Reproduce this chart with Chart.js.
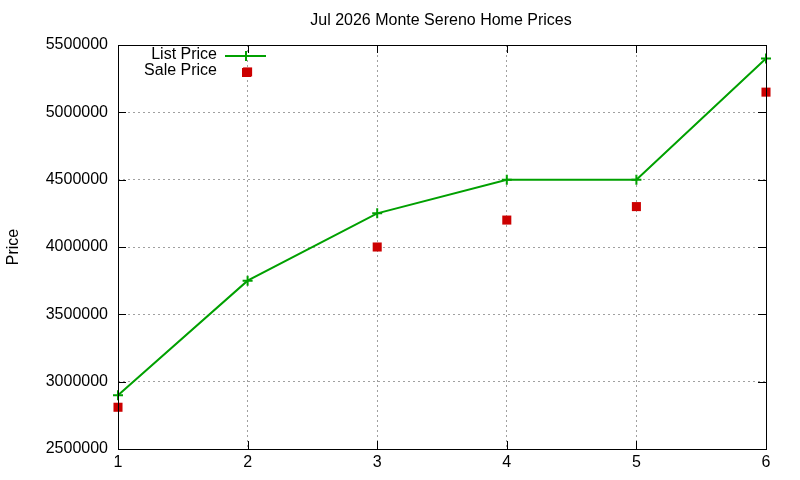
<!DOCTYPE html>
<html>
<head>
<meta charset="utf-8">
<script src="https://cdn.jsdelivr.net/npm/chart.js@4"></script>
<style>
body{margin:0;background:#fff}
</style>
</head>
<body>
<canvas id="myChart" width="800" height="480"></canvas>
<script>
// data
let months=[1,2,3,4,5,6]
let listPrice=[2900000,3750000,4250000,4500000,4500000,5400000]
let salePrice=[2810000,5300000,4000000,4200000,4300000,5150000]
let yTicks=[2500000,3000000,3500000,4000000,4500000,5000000,5500000]

const FONT='"Liberation Sans", Arial, sans-serif'

// frame, inward ticks, title and legend like gnuplot
const gnuplotBits={
    id:'gnuplotBits',
    afterDraw(chart){
        const c=chart.ctx, a=chart.chartArea
        const xs=chart.scales.x, ys=chart.scales.y
        c.save()
        c.strokeStyle='#000'
        c.lineWidth=1
        c.strokeRect(a.left+0.5,a.top+0.5,a.right-a.left,a.bottom-a.top)
        c.beginPath()
        yTicks.forEach(v=>{
            let y=Math.round(ys.getPixelForValue(v))+0.5
            c.moveTo(a.left,y);c.lineTo(a.left+8,y)
            c.moveTo(a.right,y);c.lineTo(a.right-8,y)
        })
        months.forEach(v=>{
            let x=Math.round(xs.getPixelForValue(v))+0.5
            c.moveTo(x,a.bottom);c.lineTo(x,a.bottom-8)
            c.moveTo(x,a.top);c.lineTo(x,a.top+8)
        })
        c.stroke()

        c.fillStyle='#000'
        c.font='16px '+FONT
        c.textAlign='center'
        c.textBaseline='middle'
        c.fillText('Jul 2026 Monte Sereno Home Prices',441,21)

        // legend
        c.font='16px '+FONT
        c.textAlign='right'
        c.fillText('List Price',217,55)
        c.fillText('Sale Price',217,71)
        c.strokeStyle='#00a000'
        c.lineWidth=2
        c.beginPath()
        c.moveTo(225,56);c.lineTo(266,56)
        c.moveTo(246,51);c.lineTo(246,61)
        c.stroke()
        c.fillStyle='#cc0000'
        c.fillRect(242,68,9,9)
        c.restore()
    }
}

var ctx=document.getElementById('myChart').getContext('2d');
var myChart=new Chart(ctx,{
    type:'scatter',
    data:{
        datasets:[{
            label:'List Price',
            data:months.map((m,i)=>({x:m,y:listPrice[i]})),
            showLine:true,
            borderColor:'#00a000',
            backgroundColor:'#00a000',
            borderWidth:2,
            pointStyle:'cross',
            pointRadius:5,
            pointBorderWidth:2,
            clip:false
        },
        {
            label:'Sale Price',
            data:months.map((m,i)=>({x:m,y:salePrice[i]})),
            showLine:false,
            borderColor:'#cc0000',
            backgroundColor:'#cc0000',
            pointStyle:'rect',
            pointRadius:6.4,
            pointBorderWidth:0,
            clip:false
        }]
    },
    plugins:[gnuplotBits],
    options:{
        responsive:false,
        animation:false,
        layout:{padding:{top:45,right:34,left:4,bottom:0}},
        plugins:{legend:{display:false},title:{display:false},tooltip:{enabled:false}},
        scales:{
            x:{
                type:'linear',min:1,max:6,
                afterFit(s){s.height=31},
                ticks:{stepSize:1,color:'#000',font:{family:FONT,size:16},padding:4},
                grid:{color:'#a0a0a0',drawTicks:false,lineWidth:1},
                border:{display:false,dash:[2,3]}
            },
            y:{
                min:2500000,max:5500000,
                afterFit(s){s.width=114},
                afterBuildTicks(s){s.ticks=yTicks.map(v=>({value:v}))},
                ticks:{color:'#000',font:{family:FONT,size:16},padding:10,callback:v=>String(v)},
                title:{display:true,text:'Price',color:'#000',font:{family:FONT,size:16},padding:{top:0,bottom:20}},
                grid:{color:'#a0a0a0',drawTicks:false,lineWidth:1},
                border:{display:false,dash:[2,3]}
            }
        }
    }
});
</script>
</body>
</html>
